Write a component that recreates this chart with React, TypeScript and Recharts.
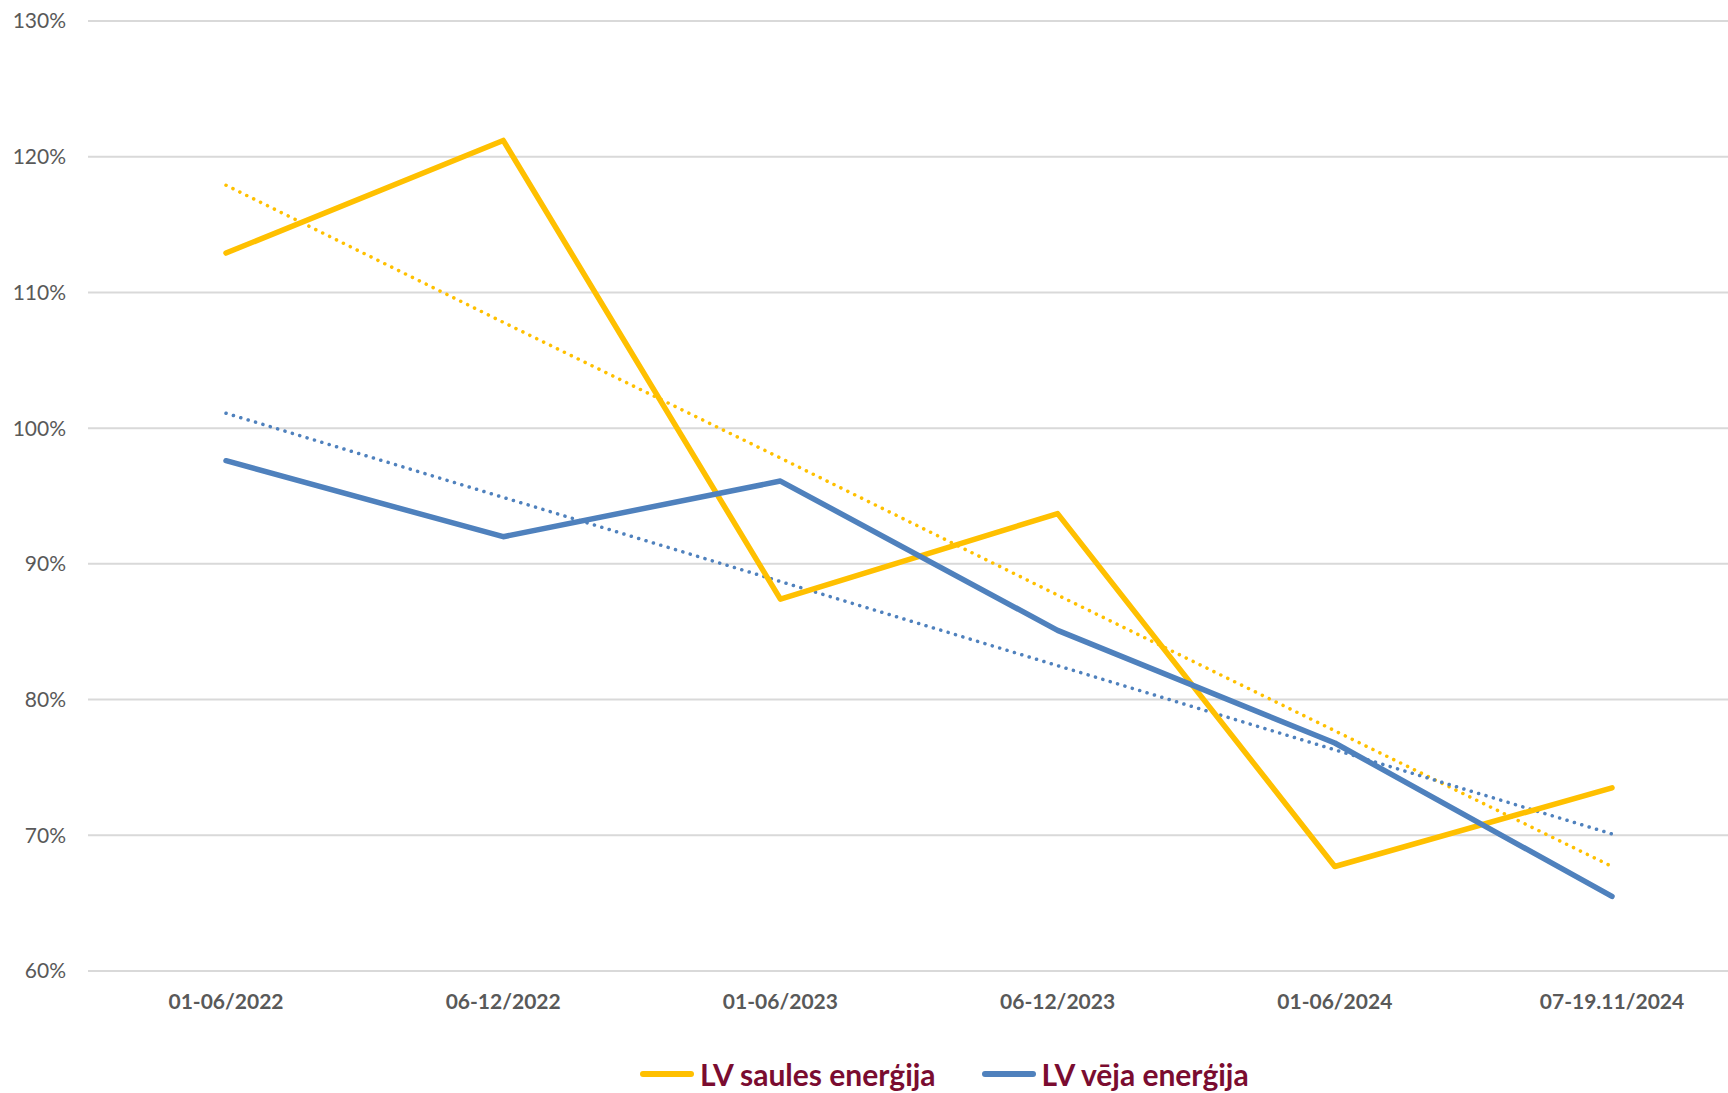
import { LineChart, Line, XAxis, YAxis, CartesianGrid, Legend } from "recharts"

const periods = ["01-06/2022", "06-12/2022", "01-06/2023", "06-12/2023", "01-06/2024", "07-19.11/2024"]
const solar = [112.9, 121.2, 87.4, 93.7, 67.7, 73.5]
const wind = [97.6, 92.0, 96.1, 85.1, 76.8, 65.5]
const solarTrend = [117.9, 107.8, 97.8, 87.7, 77.7, 67.7]
const windTrend = [101.1, 94.9, 88.7, 82.5, 76.3, 70.1]
const yTicks = [60, 70, 80, 90, 100, 110, 120, 130]

const SOLAR = "#FFC000"
const WIND = "#4F81BD"
const FONT = "Lato, 'Open Sans', sans-serif"

const legendItems = [
    { name: "LV saules enerģija", color: SOLAR },
    { name: "LV vēja enerģija", color: WIND },
]

const data = periods.map((p, i) => ({
    period: p,
    solar: solar[i],
    wind: wind[i],
    solarTrend: solarTrend[i],
    windTrend: windTrend[i],
}))

function LegendBox() {
    return (
        <div style={{ display: "flex", alignItems: "center", fontFamily: FONT, height: 32 }}>
            {legendItems.map((it) => (
                <div key={it.name} style={{ display: "flex", alignItems: "center", marginRight: 46 }}>
                    <div style={{ width: 54, height: 6, borderRadius: 3, background: it.color, marginRight: 6 }} />
                    <span style={{ fontSize: 30, fontWeight: 700, color: "#7A0C30", lineHeight: "32px" }}>{it.name}</span>
                </div>
            ))}
        </div>
    )
}

export default function App() {
    return (
        <div style={{ position: "absolute", left: 0, top: 0, width: 1728, height: 1093, overflow: "hidden", background: "#fff" }}>
            <LineChart width={1760} height={1093} data={data} margin={{ top: 21, right: 9, bottom: 0, left: 0 }}>
                <CartesianGrid vertical={false} stroke="#D9D9D9" strokeWidth={2} />
                <XAxis
                    dataKey="period"
                    padding={{ left: 138, right: 139 }}
                    axisLine={false}
                    tickLine={false}
                    tickSize={0}
                    tickMargin={23}
                    height={90}
                    interval={0}
                    tick={{ fill: "#595959", fontSize: 21, fontWeight: 700, fontFamily: FONT }}
                />
                <YAxis
                    domain={[60, 130]}
                    ticks={yTicks}
                    width={88}
                    axisLine={false}
                    tickLine={false}
                    tickSize={0}
                    tickMargin={22}
                    tickFormatter={(v) => `${v}%`}
                    tick={{ fill: "#595959", fontSize: 21, fontFamily: FONT }}
                />
                <Legend content={() => <LegendBox />} wrapperStyle={{ position: "absolute", left: 640, top: 1058, width: "auto" }} />
                <Line dataKey="solarTrend" stroke={SOLAR} strokeWidth={3.5} strokeDasharray="0.1 7.6" strokeLinecap="round" dot={false} isAnimationActive={false} legendType="none" />
                <Line dataKey="windTrend" stroke={WIND} strokeWidth={3.5} strokeDasharray="0.1 7.6" strokeLinecap="round" dot={false} isAnimationActive={false} legendType="none" />
                <Line dataKey="solar" stroke={SOLAR} strokeWidth={5.5} strokeLinejoin="round" strokeLinecap="round" dot={false} isAnimationActive={false} />
                <Line dataKey="wind" stroke={WIND} strokeWidth={5.5} strokeLinejoin="round" strokeLinecap="round" dot={false} isAnimationActive={false} />
            </LineChart>
        </div>
    )
}
